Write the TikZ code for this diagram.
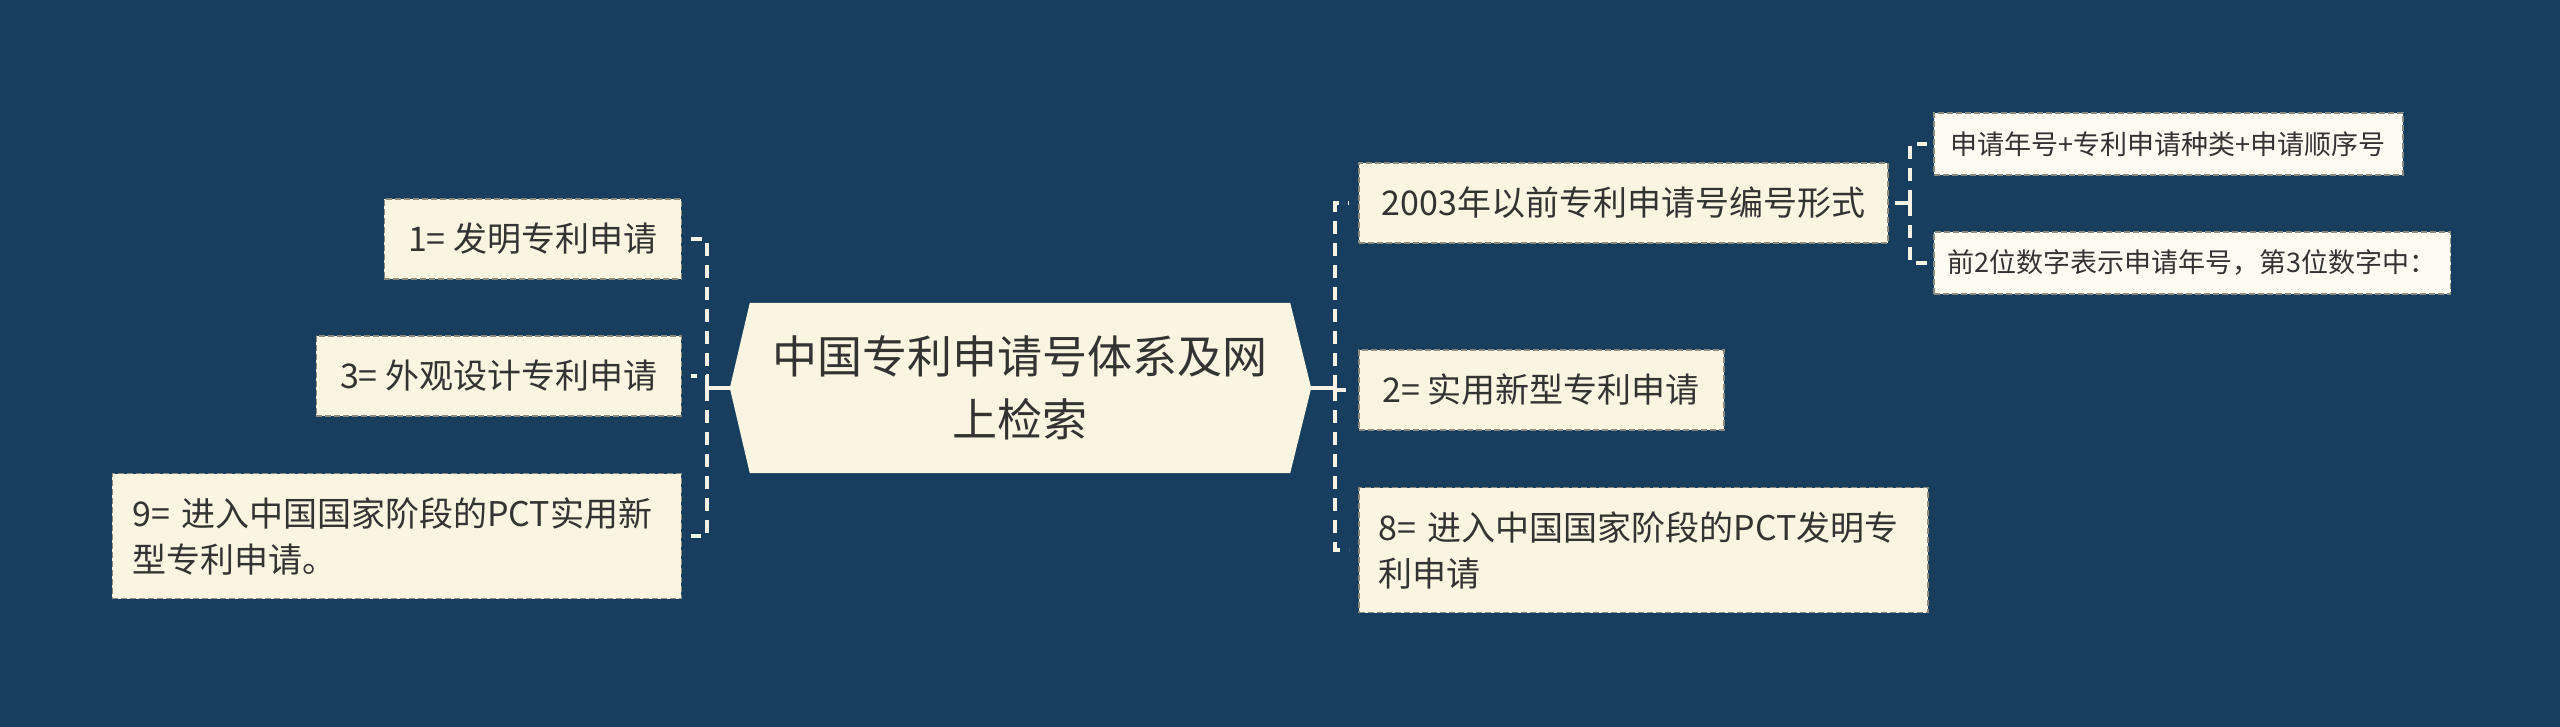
\documentclass[tikz,border=0pt]{standalone}
\usepackage{fontspec}
\setmainfont{Noto Sans CJK SC}
\usetikzlibrary{backgrounds,calc}
\definecolor{bg}{HTML}{173E5E}
\definecolor{cream}{HTML}{FAF5E1}
\definecolor{subfill}{HTML}{FDFBF2}
\definecolor{txt}{HTML}{333333}
\definecolor{edge}{HTML}{8C8A7E}
\definecolor{linkcol}{HTML}{F5F1E3}
\begin{document}
\begin{tikzpicture}[x=1pt,y=-1pt,
  box/.style={fill=cream, draw=edge, dash pattern=on 6pt off 3pt, line width=1.5pt, text=txt,
    inner xsep=20pt, inner ysep=0pt, font=\fontsize{34}{46}\selectfont},
  onebox/.style={box, align=center, minimum height=80pt},
  twobox/.style={box, align=left, minimum height=125pt},
  subbox/.style={box, fill=subfill, font=\fontsize{27}{36}\selectfont, inner xsep=14pt,
    align=center, minimum height=62pt},
  centerbox/.style={text=txt, align=center, minimum width=540pt, minimum height=170pt,
    inner sep=0pt, font=\fontsize{45}{63}\selectfont},
  link/.style={draw=linkcol, line width=3.5pt, dash pattern=on 13pt off 9pt},
  trunk/.style={draw=linkcol, line width=3.5pt},
]
\useasboundingbox (0,0) rectangle (2560,727);

\node[centerbox] (c) at (1020,388) {中国专利申请号体系及网\\上检索};

\node[onebox, minimum width=297pt, anchor=east] (n1) at (682,239) {1= 发明专利申请};
\node[onebox, minimum width=365pt, anchor=east] (n3) at (682,376) {3= 外观设计专利申请};
\node[twobox, text width=529pt, anchor=east] (n9) at (682,536) {9= 进入中国国家阶段的PCT实用新\\型专利申请。};

\node[onebox, minimum width=529pt, anchor=west] (r1) at (1358,203) {2003年以前专利申请号编号形式};
\node[onebox, minimum width=365pt, anchor=west] (r2) at (1358,390) {2= 实用新型专利申请};
\node[twobox, text width=529pt, anchor=west] (r8) at (1358,550) {8= 进入中国国家阶段的PCT发明专\\利申请};

\node[subbox, minimum width=469pt, anchor=west] (s1) at (1933,144) {申请年号+专利申请种类+申请顺序号};
\node[subbox, minimum width=514pt, anchor=west] (s2) at (1933,263) {前2位数字表示申请年号，第3位数字中：};

\begin{scope}[on background layer]
  \fill[bg] (0,0) rectangle (2560,727);
  \fill[cream] (c.north west) -- (c.north east) -- ($(c.east)+(21,0)$) -- (c.south east)
    -- (c.south west) -- ($(c.west)+(-20,0)$) -- cycle;
\end{scope}

\coordinate (lj) at (707,388);
\coordinate (rj) at (1335,388);
\coordinate (sj) at (1910,203);

\draw[trunk] ($(c.west)+(-20,0)$) -- (lj);
\draw[trunk] ($(c.east)+(21,0)$) -- (rj);

\draw[link, shorten >=9pt] (lj) |- (n1.east);
\draw[link, shorten >=9pt] (lj) |- (n3.east);
\draw[link, shorten >=9pt] (lj) |- (n9.east);

\draw[link, shorten >=9pt] (rj) |- (r1.west);
\draw[link, shorten >=9pt] (rj) |- (r2.west);
\draw[link, shorten >=9pt] (rj) |- (r8.west);

\draw[link, shorten <=6pt] (r1.east) -- (sj);
\draw[link, shorten >=6pt] (sj) |- (s1.west);
\draw[link, shorten >=6pt] (sj) |- (s2.west);
\end{tikzpicture}
\end{document}
